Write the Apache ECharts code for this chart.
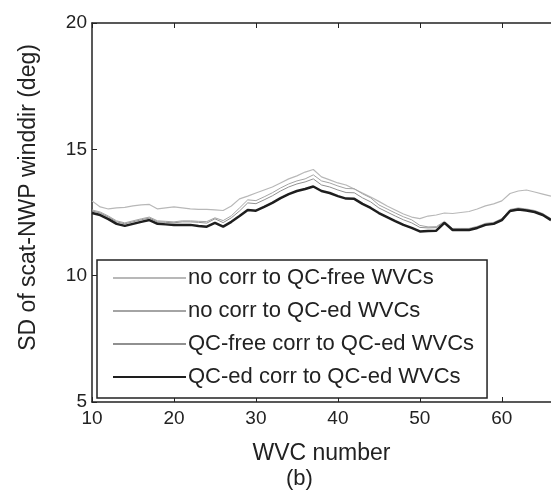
<!DOCTYPE html>
<html>
<head>
<meta charset="utf-8">
<script src="https://cdn.jsdelivr.net/npm/echarts@6/dist/echarts.min.js"></script>
<style>
  html, body { margin: 0; padding: 0; background: #fff; }
  #chart { width: 551px; height: 500px; }
</style>
</head>
<body>
<div id="chart"></div>
<script>
// WVC number (x)
const wvc = [10, 11, 12, 13, 14, 15, 16, 17, 18, 19, 20, 21, 22, 23, 24, 25, 26, 27, 28, 29,
  30, 31, 32, 33, 34, 35, 36, 37, 38, 39, 40, 41, 42, 43, 44, 45, 46, 47, 48, 49,
  50, 51, 52, 53, 54, 55, 56, 57, 58, 59, 60, 61, 62, 63, 64, 65, 66];

// SD of scat-NWP wind direction (deg)
const noCorrQcFree = [12.96, 12.72, 12.64, 12.68, 12.70, 12.76, 12.80, 12.82, 12.64, 12.68,
  12.72, 12.68, 12.64, 12.62, 12.62, 12.60, 12.58, 12.76, 13.04, 13.15,
  13.27, 13.39, 13.51, 13.67, 13.83, 13.95, 14.10, 14.20, 13.91, 13.79,
  13.67, 13.59, 13.43, 13.27, 13.11, 12.94, 12.76, 12.60, 12.44, 12.32,
  12.26, 12.36, 12.40, 12.48, 12.46, 12.50, 12.54, 12.64, 12.76, 12.84,
  12.96, 13.25, 13.35, 13.39, 13.31, 13.23, 13.15];

const noCorrQcEd = [12.60, 12.52, 12.36, 12.17, 12.09, 12.17, 12.25, 12.32, 12.17, 12.15,
  12.13, 12.17, 12.17, 12.15, 12.14, 12.29, 12.18, 12.37, 12.68, 13.00,
  12.97, 13.12, 13.28, 13.47, 13.63, 13.75, 13.83, 13.99, 13.75, 13.67,
  13.55, 13.45, 13.44, 13.24, 13.08, 12.80, 12.64, 12.48, 12.33, 12.21,
  11.99, 11.93, 11.94, 12.15, 11.87, 11.87, 11.87, 11.95, 12.07, 12.11,
  12.26, 12.62, 12.68, 12.64, 12.58, 12.46, 12.26];

const qcFreeCorrQcEd = [12.56, 12.48, 12.32, 12.13, 12.05, 12.13, 12.21, 12.28, 12.13, 12.11,
  12.09, 12.13, 12.13, 12.11, 12.08, 12.25, 12.10, 12.29, 12.56, 12.88,
  12.85, 13.00, 13.16, 13.35, 13.51, 13.63, 13.71, 13.83, 13.59, 13.51,
  13.39, 13.29, 13.28, 13.08, 12.92, 12.68, 12.52, 12.36, 12.21, 12.09,
  11.91, 11.89, 11.90, 12.12, 11.84, 11.84, 11.84, 11.92, 12.04, 12.08,
  12.23, 12.59, 12.65, 12.61, 12.55, 12.43, 12.23];

const qcEdCorrQcEd = [12.48, 12.40, 12.24, 12.05, 11.97, 12.05, 12.13, 12.20, 12.05, 12.03,
  12.01, 12.01, 12.01, 11.97, 11.94, 12.09, 11.94, 12.13, 12.36, 12.60,
  12.57, 12.72, 12.88, 13.07, 13.23, 13.35, 13.43, 13.53, 13.35, 13.27,
  13.15, 13.05, 13.04, 12.84, 12.68, 12.48, 12.32, 12.16, 12.01, 11.89,
  11.75, 11.77, 11.78, 12.09, 11.81, 11.81, 11.81, 11.89, 12.01, 12.05,
  12.20, 12.56, 12.62, 12.58, 12.52, 12.40, 12.20];

const seriesNames = [
  "no corr to QC-free WVCs",
  "no corr to QC-ed WVCs",
  "QC-free corr to QC-ed WVCs",
  "QC-ed corr to QC-ed WVCs"
];

const pairs = (ys) => wvc.map((x, i) => [x, ys[i]]);

const myChart = echarts.init(document.getElementById("chart"));

const axisLine = { show: true, lineStyle: { color: "#222", width: 1.5 } };
const font = "Liberation Sans, Arial, sans-serif";

const lineSeries = (name, ys, color, width) => ({
  name: name,
  type: "line",
  data: pairs(ys),
  symbol: "none",
  silent: true,
  lineStyle: { color: color, width: width },
  itemStyle: { color: color }
});

const option = {
  backgroundColor: "#fff",
  animation: false,
  grid: { left: 92, top: 23, bottom: 98, right: -1 },
  xAxis: [
    {
      type: "value",
      min: 10,
      max: 66,
      interval: 10,
      position: "bottom",
      axisLine: axisLine,
      axisTick: { show: true, inside: true, length: 5, lineStyle: { color: "#222" } },
      axisLabel: { color: "#222", fontSize: 19, fontFamily: font, margin: 7, showMaxLabel: false },
      splitLine: { show: false },
      name: "WVC number",
      nameLocation: "middle",
      nameGap: 40,
      nameTextStyle: { color: "#222", fontSize: 23, fontFamily: font }
    },
    {
      type: "value",
      min: 10,
      max: 66,
      interval: 10,
      position: "top",
      axisLine: axisLine,
      axisTick: { show: true, inside: true, length: 5, lineStyle: { color: "#222" } },
      axisLabel: { show: false },
      splitLine: { show: false }
    }
  ],
  yAxis: {
    type: "value",
    min: 5,
    max: 20,
    interval: 5,
    axisLine: axisLine,
    axisTick: { show: true, inside: true, length: 5, lineStyle: { color: "#222" } },
    axisLabel: { color: "#222", fontSize: 19, fontFamily: font, margin: 5 },
    splitLine: { show: false },
    name: "SD of scat-NWP winddir (deg)",
    nameLocation: "middle",
    nameGap: 52,
    nameTextStyle: { color: "#222", fontSize: 23, fontFamily: font, padding: [0, 0, 0, 30] }
  },
  legend: {
    orient: "vertical",
    left: 97,
    top: 260,
    padding: [7, 13, 10, 15],
    itemGap: 11,
    itemWidth: 73,
    itemHeight: 14,
    backgroundColor: "#fff",
    borderColor: "#222",
    borderWidth: 1.5,
    borderRadius: 0,
    itemStyle: { opacity: 0 },
    data: seriesNames,
    textStyle: { color: "#222", fontSize: 22, fontFamily: font, lineHeight: 22, padding: [0, 0, 0, -3] }
  },
  graphic: [
    {
      type: "text",
      left: 286,
      top: 468,
      style: { text: "(b)", fontSize: 22, fontFamily: font, fill: "#222" }
    }
  ],
  series: [
    lineSeries(seriesNames[0], noCorrQcFree, "#b8b8b8", 1.2),
    lineSeries(seriesNames[1], noCorrQcEd, "#a4a4a4", 1),
    lineSeries(seriesNames[2], qcFreeCorrQcEd, "#909090", 1),
    lineSeries(seriesNames[3], qcEdCorrQcEd, "#1e1e1e", 2.5)
  ]
};

myChart.setOption(option, true);
</script>
</body>
</html>
